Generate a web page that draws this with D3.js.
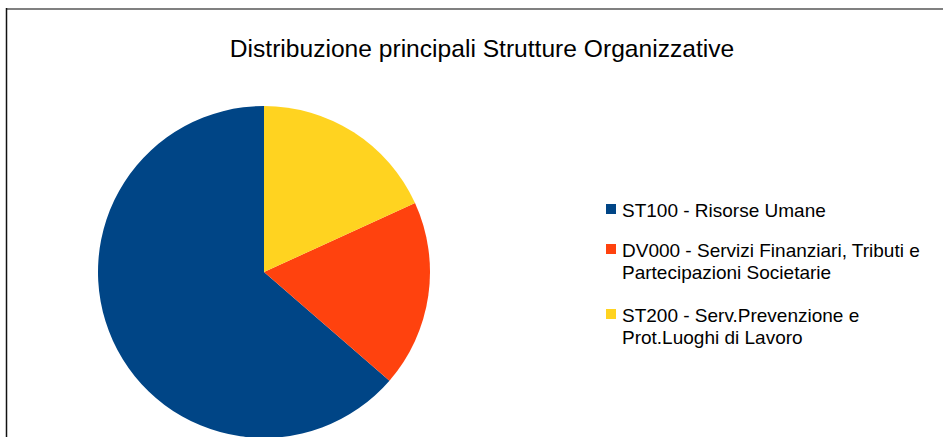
<!DOCTYPE html>
<html>
<head>
<meta charset="utf-8">
<script src="https://cdn.jsdelivr.net/npm/d3@7"></script>
<style>
  html, body { margin: 0; padding: 0; background: #fff; }
  svg { display: block; font-family: "Liberation Sans", Arial, sans-serif; }
</style>
</head>
<body>
<svg id="chart" width="943" height="437"></svg>
<script>
// Strutture organizzative e numero di elementi per ciascuna
const categories = [
  "ST100 - Risorse Umane",
  "DV000 - Servizi Finanziari, Tributi e Partecipazioni Societarie",
  "ST200 - Serv.Prevenzione e Prot.Luoghi di Lavoro"
];
// Etichette della legenda, divise su più righe
const legendLines = [
  ["ST100 - Risorse Umane"],
  ["DV000 - Servizi Finanziari, Tributi e", "Partecipazioni Societarie"],
  ["ST200 - Serv.Prevenzione e", "Prot.Luoghi di Lavoro"]
];
const values = [7, 2, 2];
const colors = ["#004586", "#ff420e", "#ffd320"];
const title = "Distribuzione principali Strutture Organizzative";

const svg = d3.select("#chart");
const W = 943, H = 437;

// Cornice dell'area grafico
svg.append("line")
  .attr("x1", 6).attr("x2", W).attr("y1", 9).attr("y2", 9)
  .attr("stroke", "#808080").attr("stroke-width", 2);
svg.append("line")
  .attr("x1", 6.5).attr("x2", 6.5).attr("y1", 8).attr("y2", H)
  .attr("stroke", "#111").attr("stroke-width", 1.5);

// Titolo
svg.append("text")
  .attr("x", 482).attr("y", 57)
  .attr("text-anchor", "middle")
  .attr("font-size", 24.6)
  .attr("fill", "#000")
  .text(title);

// Torta: le fette partono da ore 12 e procedono in senso antiorario
const cx = 264, cy = 272, r = 166;
const color = d3.scaleOrdinal().domain(categories).range(colors);
const pie = d3.pie().sort(null).value(d => d.value)
  .startAngle(0).endAngle(-2 * Math.PI);
const arc = d3.arc().innerRadius(0).outerRadius(r);
const data = categories.map((c, i) => ({ name: c, value: values[i] }));

svg.append("g")
  .attr("transform", `translate(${cx},${cy})`)
  .selectAll("path")
  .data(pie(data))
  .join("path")
  .attr("d", arc)
  .attr("fill", d => color(d.data.name));

// Legenda
const legendX = 606, fontSize = 19, lineH = 22;
const legendTops = [217, 257, 322]; // linee di base della prima riga
const legend = svg.append("g");
categories.forEach((c, i) => {
  const g = legend.append("g");
  g.append("rect")
    .attr("x", legendX).attr("y", legendTops[i] - 13)
    .attr("width", 10).attr("height", 10)
    .attr("fill", color(c));
  const t = g.append("text")
    .attr("font-size", fontSize)
    .attr("fill", "#000");
  legendLines[i].forEach((line, j) => {
    t.append("tspan")
      .attr("x", legendX + 16)
      .attr("y", legendTops[i] + j * lineH)
      .text(line);
  });
});
</script>
</body>
</html>
